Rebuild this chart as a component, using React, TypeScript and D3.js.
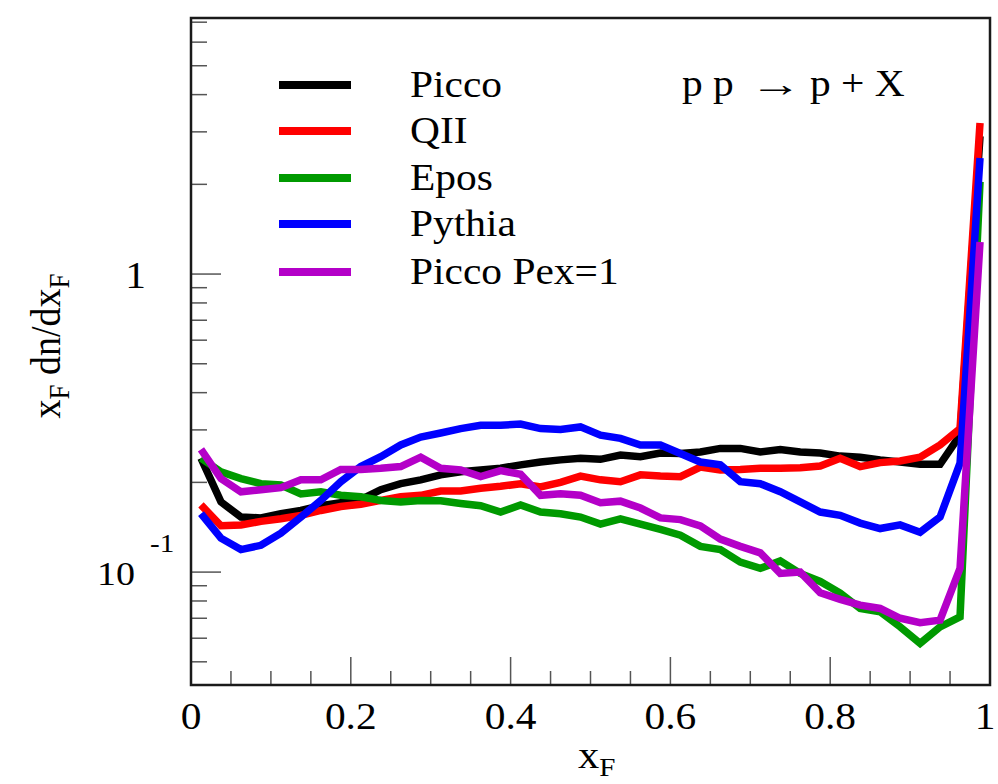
import React from 'react';
import * as d3 from 'd3';

const xF = [
  0.0125, 0.0375, 0.0625, 0.0875, 0.1125, 0.1375, 0.1625, 0.1875, 0.2125, 0.2375,
  0.2625, 0.2875, 0.3125, 0.3375, 0.3625, 0.3875, 0.4125, 0.4375, 0.4625, 0.4875,
  0.5125, 0.5375, 0.5625, 0.5875, 0.6125, 0.6375, 0.6625, 0.6875, 0.7125, 0.7375,
  0.7625, 0.7875, 0.8125, 0.8375, 0.8625, 0.8875, 0.9125, 0.9375, 0.9625, 0.9875,
];

const picco = [
  0.241, 0.172, 0.153, 0.152, 0.157, 0.161, 0.167, 0.171, 0.175, 0.189,
  0.198, 0.204, 0.212, 0.217, 0.220, 0.223, 0.229, 0.234, 0.238, 0.241,
  0.239, 0.247, 0.244, 0.251, 0.250, 0.253, 0.260, 0.260, 0.253, 0.258,
  0.253, 0.251, 0.245, 0.243, 0.238, 0.234, 0.230, 0.230, 0.288, 2.9,
];
const qii = [
  0.168, 0.143, 0.144, 0.148, 0.151, 0.155, 0.161, 0.166, 0.169, 0.174,
  0.179, 0.181, 0.187, 0.187, 0.191, 0.194, 0.198, 0.193, 0.200, 0.210,
  0.204, 0.201, 0.212, 0.210, 0.209, 0.225, 0.220, 0.221, 0.223, 0.223,
  0.224, 0.227, 0.241, 0.226, 0.233, 0.236, 0.243, 0.267, 0.303, 3.21,
];
const epos = [
  0.241, 0.217, 0.206, 0.198, 0.196, 0.183, 0.186, 0.181, 0.179, 0.174,
  0.172, 0.174, 0.1735, 0.170, 0.167, 0.159, 0.168, 0.159, 0.157, 0.153,
  0.145, 0.151, 0.145, 0.139, 0.133, 0.122, 0.119, 0.108, 0.103, 0.109,
  0.099, 0.093, 0.085, 0.0755, 0.0736, 0.0655, 0.0577, 0.0655, 0.0708, 2.04,
];
const pythia = [
  0.157, 0.130, 0.119, 0.123, 0.135, 0.153, 0.174, 0.201, 0.226, 0.244,
  0.267, 0.284, 0.293, 0.303, 0.311, 0.311, 0.314, 0.303, 0.301, 0.307,
  0.288, 0.281, 0.267, 0.267, 0.250, 0.234, 0.229, 0.201, 0.198, 0.186,
  0.172, 0.159, 0.155, 0.146, 0.140, 0.144, 0.136, 0.153, 0.232, 2.45,
];
const piccoPex1 = [
  0.258, 0.206, 0.186, 0.189, 0.192, 0.204, 0.204, 0.221, 0.221, 0.223,
  0.226, 0.243, 0.223, 0.220, 0.209, 0.219, 0.213, 0.181, 0.183, 0.181,
  0.171, 0.173, 0.164, 0.152, 0.150, 0.143, 0.129, 0.122, 0.116, 0.099,
  0.100, 0.0852, 0.081, 0.0775, 0.0755, 0.070, 0.0676, 0.069, 0.103, 1.28,
];

const seriesNames = ['Picco', 'QII', 'Epos', 'Pythia', 'Picco Pex=1'];
const seriesValues = [picco, qii, epos, pythia, piccoPex1];
const seriesColors = ['#000000', '#ff0000', '#009a00', '#0000ff', '#b400c8'];

const xMajorTicks = [0, 0.2, 0.4, 0.6, 0.8, 1];
const xTickLabels = ['0', '0.2', '0.4', '0.6', '0.8', '1'];
const xMinorTicks = [0.05, 0.1, 0.15, 0.25, 0.3, 0.35, 0.45, 0.5, 0.55, 0.65, 0.7, 0.75, 0.85, 0.9, 0.95];
const yMajorTicks = [0.1, 1];
const yMinorTicks = [0.05, 0.06, 0.07, 0.08, 0.09, 0.2, 0.3, 0.4, 0.5, 0.6, 0.7, 0.8, 0.9, 2, 3, 4, 5, 6, 7];

const FONT = '"Liberation Serif", "Times New Roman", serif';
const SX = 1.12;

export default function App() {
  const W = 998, H = 784;
  const left = 191, right = 990, top = 18, bottom = 685;
  const x = d3.scaleLinear().domain([0, 1]).range([left, right]);
  const y = d3.scaleLog().domain([0.0418, 7.23]).range([bottom, top]);

  const line = d3.line<[number, number]>()
    .x((d) => x(d[0]))
    .y((d) => y(d[1]));

  const txt = (tx: number, ty: number, s: string, size: number, anchor: string = 'start', key?: string, sx: number = SX) => (
    <text key={key} transform={`translate(${tx},${ty}) scale(${sx},1)`} fontSize={size} fontFamily={FONT} textAnchor={anchor} fill="#000">{s}</text>
  );

  const legendY = [85, 131, 178, 224, 272];

  return (
    <svg width={W} height={H} style={{ position: 'absolute', left: 0, top: 0, background: '#fff' }}>
      <rect x={0} y={0} width={W} height={H} fill="#fff" />
      {/* ticks */}
      {xMajorTicks.map((t) => (
        <line key={'xM' + t} x1={x(t)} x2={x(t)} y1={bottom} y2={bottom - 28} stroke="#555" strokeWidth={1.5} />
      ))}
      {xMinorTicks.map((t) => (
        <line key={'xm' + t} x1={x(t)} x2={x(t)} y1={bottom} y2={bottom - 14} stroke="#555" strokeWidth={1.5} />
      ))}
      {yMajorTicks.map((t) => (
        <line key={'yM' + t} x1={left} x2={left + 30} y1={y(t)} y2={y(t)} stroke="#555" strokeWidth={1.5} />
      ))}
      {yMinorTicks.map((t) => (
        <line key={'ym' + t} x1={left} x2={left + 16} y1={y(t)} y2={y(t)} stroke="#555" strokeWidth={1.5} />
      ))}
      {/* series */}
      {seriesValues.map((vals, i) => (
        <path
          key={'s' + i}
          d={line(vals.map((v, j) => [xF[j], v] as [number, number])) || ''}
          fill="none"
          stroke={seriesColors[i]}
          strokeWidth={7.5}
          strokeLinejoin="miter"
          strokeMiterlimit={6}
          strokeLinecap="butt"
        />
      ))}
      {/* frame */}
      <rect x={left} y={top} width={right - left} height={bottom - top} fill="none" stroke="#1a1a1a" strokeWidth={2.5} />
      {/* x tick labels */}
      {xMajorTicks.map((t, i) => txt(i === xMajorTicks.length - 1 ? x(t) - 5 : x(t), 729, xTickLabels[i], 37, 'middle', 'xl' + i))}
      {/* y tick labels */}
      {txt(146, 288, '1', 37, 'end', 'y1')}
      {txt(135, 585, '10', 34, 'end', 'y10')}
      {txt(150, 552, '-1', 26, 'start', 'yexp')}
      {/* x axis title */}
      <text transform={`translate(578,768) scale(${SX},1)`} fontSize={38} fontFamily={FONT} fill="#000">
        x<tspan fontSize={26} dy={8}>F</tspan>
      </text>
      {/* y axis title */}
      <text transform={`translate(60,346) rotate(-90) scale(1,${SX})`} fontSize={38} fontFamily={FONT} fill="#000" textAnchor="middle">
        x<tspan fontSize={27} dy={8}>F</tspan><tspan dy={-8}> dn/dx</tspan><tspan fontSize={27} dy={8}>F</tspan>
      </text>
      {/* legend */}
      {seriesNames.map((n, i) => (
        <g key={'lg' + i}>
          <line x1={279} x2={351} y1={legendY[i]} y2={legendY[i]} stroke={seriesColors[i]} strokeWidth={8} />
          {txt(410, legendY[i] + 12, n, 37)}
        </g>
      ))}
      {/* reaction label */}
      {txt(682, 96, 'p p', 37)}
      {txt(750, 96, '\u2192', 36, 'start', 'arrow', 1.45)}
      {txt(810, 96, 'p + X', 37)}
    </svg>
  );
}
